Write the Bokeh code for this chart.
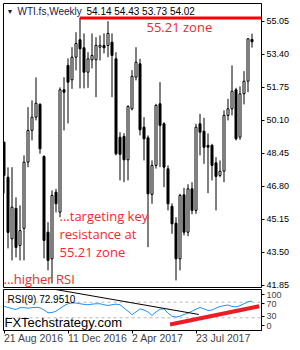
from bokeh.plotting import figure
from bokeh.layouts import column
from bokeh.models import ColumnDataSource, FixedTicker, Range1d, Label, LinearAxis
from bokeh.embed import file_html
from bokeh.resources import INLINE

# ---------------- data ----------------
symbol = "WTI.fs,Weekly"
last_ohlc_text = "54.14 54.43 53.73 54.02"
opens = [49.00, 47.25, 44.17, 45.69, 43.84, 44.69, 48.00, 49.59, 50.25, 50.89,
         48.29, 44.50, 43.17, 46.50, 45.50, 51.62, 52.84, 52.12, 53.25, 54.12,
         53.72, 52.50, 53.12, 53.12, 53.75, 53.84, 53.84, 54.00, 53.17, 49.25,
         49.29, 48.12, 50.67, 52.25, 52.92, 49.75, 49.22, 46.39, 47.84, 50.92,
         49.92, 47.67, 45.79, 44.95, 43.17, 46.37, 44.50, 46.67, 45.59, 49.92,
         49.55, 48.84, 48.84, 47.97, 47.34, 47.55, 50.34, 50.67, 51.62, 49.25,
         51.42, 52.05, 54.14]
highs = [49.03, 47.74, 47.75, 46.24, 45.84, 48.34, 50.75, 51.09, 52.24, 50.95,
         48.34, 45.00, 46.59, 46.67, 51.74, 52.25, 53.19, 53.75, 54.50, 55.24,
         54.44, 53.50, 54.44, 54.25, 54.34, 54.44, 55.05, 54.44, 53.50, 49.50,
         49.45, 50.84, 52.60, 53.75, 53.17, 50.25, 49.34, 48.09, 50.92, 52.00,
         50.00, 47.84, 45.94, 45.25, 46.42, 46.72, 46.90, 47.00, 49.92, 50.42,
         50.22, 49.44, 48.92, 48.25, 48.09, 50.59, 51.17, 52.84, 51.72, 51.79,
         52.55, 54.20, 54.43]
lows = [46.44, 43.69, 43.09, 43.24, 43.09, 43.09, 47.75, 49.09, 50.09, 48.42,
        43.19, 42.59, 41.94, 45.49, 45.25, 49.59, 49.94, 51.67, 52.59, 51.69,
        51.69, 51.72, 52.69, 51.25, 53.09, 53.44, 53.25, 51.25, 48.34, 47.09,
        47.00, 47.09, 50.59, 52.09, 49.34, 48.09, 43.75, 45.92, 47.68, 47.75,
        46.75, 45.59, 44.42, 42.09, 42.59, 44.34, 44.30, 45.40, 45.42, 48.34,
        47.92, 46.45, 47.09, 45.59, 47.25, 47.00, 50.09, 50.34, 49.09, 49.12,
        50.89, 51.50, 53.73]
closes = [47.34, 44.49, 45.75, 43.74, 44.58, 48.00, 49.59, 50.25, 50.95, 48.67,
          44.09, 43.09, 46.34, 45.92, 51.62, 51.50, 52.00, 53.25, 53.94, 53.67,
          52.50, 53.17, 53.34, 53.84, 53.84, 53.72, 54.44, 53.34, 48.42, 48.39,
          48.12, 50.79, 52.29, 53.00, 49.62, 49.17, 46.42, 47.84, 50.84, 49.84,
          47.75, 45.92, 44.92, 43.17, 46.34, 44.50, 46.67, 45.59, 49.75, 49.50,
          48.75, 48.75, 47.84, 47.29, 47.55, 50.34, 50.67, 51.55, 49.17, 51.42,
          52.05, 54.17, 54.02]
rsi9 = [59.7, 56.5, 53.5, 51.5, 56.0, 56.0, 54.6, 56.0, 57.0, 55.6,
        50.0, 43.0, 43.5, 47.0, 54.0, 61.0, 66.0, 68.0, 68.0, 66.0,
        64.5, 63.3, 65.0, 66.0, 66.0, 63.5, 61.5, 63.5, 65.0, 63.5,
        55.0, 47.0, 38.0, 45.0, 53.0, 50.0, 45.0, 36.0, 45.0, 52.0,
        53.0, 42.0, 34.0, 32.0, 34.0, 38.5, 42.0, 47.0, 52.0, 56.5,
        53.0, 48.7, 50.0, 55.0, 59.0, 61.0, 63.0, 59.0, 58.0, 61.0,
        66.0, 71.0, 72.95]
rsi_label = "RSI(9) 72.9510"
price_ticks = [41.85, 43.50, 45.15, 46.80, 48.45, 50.10, 51.75, 53.40, 55.05]
rsi_levels = [30, 70]
rsi_ticks = [0, 30, 70, 100]
date_tick_bars = [0, 16, 32, 48]
date_labels = ["21 Aug 2016", "11 Dec 2016", "2 Apr 2017", "23 Jul 2017"]
zone_level = 55.21
zone_start_bar = 19
rsi_res_x = [12.1, 48.7]
rsi_res_y = [104.0, 38.5]
rsi_sup_x = [41.5, 63.8]
rsi_sup_y = [12.8, 59.7]
notes = ["...targeting key", "resistance at", "55.21 zone"]

# ---------------- geometry helpers (pixel layout) ----------------
PX_BAR = 4.0
X0 = -0.125
X1 = X0 + 258 / PX_BAR
P_TOP, P_BOT = 55.935, 41.735
R_TOP, R_BOT = 102.6, -2.6
SCALE_TOP, SCALE_BOT = 116.1, -16.1   # compressed label scale of the terminal's RSI axis
FRAME_LEFT = 3
RSI_TOP_PX = 289
RSI_FRAME_H = 41


def bx(px):
    return X0 + (px - FRAME_LEFT) / PX_BAR


def py(px):
    return P_TOP - (px - 3) / 20.0


def ry(px):
    return R_TOP - (px - RSI_TOP_PX) / 0.39


SMALL = "Liberation Sans"
RED = "#f2282d"

# ---------------- main price panel ----------------
bars = list(range(len(opens)))
tops = [max(o, c) for o, c in zip(opens, closes)]
bottoms = [min(o, c) for o, c in zip(opens, closes)]
fills = ["white" if c >= o else "black" for o, c in zip(opens, closes)]
src = ColumnDataSource(dict(x=bars, o=opens, h=highs, l=lows, c=closes,
                            top=tops, bottom=bottoms, fill=fills))

p = figure(frame_width=258, frame_height=284, x_range=Range1d(X0, X1),
           y_range=Range1d(P_BOT, P_TOP), output_backend="svg",
           toolbar_location=None, x_axis_location=None, y_axis_location="right",
           min_border_left=3, min_border_right=39, min_border_top=3,
           min_border_bottom=2)
p.grid.visible = False
p.outline_line_color = "black"
p.outline_line_alpha = 1.0
p.background_fill_color = "white"
p.border_fill_color = "white"

ya = p.yaxis[0]
ya.ticker = FixedTicker(ticks=price_ticks)
ya.major_label_overrides = {t: f"{t:.2f}" for t in price_ticks}
ya.major_tick_out = 3
ya.major_tick_in = 0
ya.minor_tick_out = 0
ya.minor_tick_in = 0
ya.major_label_standoff = 2
ya.major_label_text_font = SMALL
ya.major_label_text_font_size = "9px"
ya.major_label_text_color = "black"
ya.axis_line_color = "black"

p.segment(x0="x", y0="l", x1="x", y1="h", source=src, line_color="black", line_width=1)
p.vbar(x="x", width=0.5, top="top", bottom="bottom", fill_color="fill",
       line_color="black", line_width=1, source=src)

# 55.21 zone line
p.segment(x0=[zone_start_bar], y0=[zone_level], x1=[X1 + 1], y1=[zone_level],
          line_color="red", line_width=3)

# header
p.add_layout(Label(x=bx(6), y=py(11), text="▼", text_font=SMALL, text_font_size="7px",
                   text_color="#1a1a40", text_baseline="middle"))
p.add_layout(Label(x=bx(17), y=py(11), text=symbol, text_font=SMALL, text_font_size="10px",
                   text_color="#1a1a50", text_baseline="middle"))
p.add_layout(Label(x=bx(86), y=py(11), text=last_ohlc_text, text_font=SMALL,
                   text_font_size="10px", text_color="black", text_baseline="middle"))

# red annotations
p.add_layout(Label(x=bx(146), y=py(26), text=f"{zone_level:.2f} zone", text_font="Open Sans",
                   text_font_size="13px", text_color=RED, text_baseline="middle"))
for i, t in enumerate(notes):
    p.add_layout(Label(x=bx(59), y=py(215 + 18.3 * i), text=t, text_font="Open Sans",
                       text_font_size="13px", text_color=RED, text_baseline="middle"))
p.add_layout(Label(x=bx(3), y=py(278), text="...higher RSI", text_font="Open Sans",
                   text_font_size="13px", text_color=RED, text_baseline="middle"))

# current price tag
p.add_layout(Label(x=bx(263), y=closes[-1], text=f"{closes[-1]:.2f}", text_font=SMALL,
                   text_font_size="9px", text_color="white", text_baseline="middle",
                   background_fill_color="black", padding=2))

# ---------------- RSI panel ----------------
r = figure(frame_width=258, frame_height=RSI_FRAME_H, x_range=p.x_range,
           y_range=Range1d(R_BOT, R_TOP), output_backend="svg",
           toolbar_location=None, y_axis_location=None,
           min_border_left=3, min_border_right=39, min_border_top=0,
           min_border_bottom=20)
r.grid.visible = False
r.outline_line_color = "black"
r.outline_line_alpha = 1.0
r.extra_y_ranges = {"scale": Range1d(SCALE_BOT, SCALE_TOP)}

r.segment(x0=[X0 - 1] * len(rsi_levels), y0=rsi_levels, x1=[X1 + 1] * len(rsi_levels),
          y1=rsi_levels, line_color="#b9b9b9", line_dash="3 3", line_width=1)

r.line(bars, rsi9, line_color="#1e90ff", line_width=1)
r.line(rsi_res_x, rsi_res_y, line_color="black", line_width=1)
r.line(rsi_sup_x, rsi_sup_y, line_color="#ee1c25", line_width=4)

r.add_layout(Label(x=bx(7), y=ry(299), text=rsi_label, text_font=SMALL,
                   text_font_size="10px", text_color="black", text_baseline="middle"))
r.add_layout(Label(x=bx(4), y=ry(322), text="FXTechstrategy.com", text_font=SMALL,
                   text_font_size="13px", text_color="black", text_baseline="middle"))

ry_ax = LinearAxis(y_range_name="scale", ticker=FixedTicker(ticks=rsi_ticks))
ry_ax.major_tick_out = 3
ry_ax.major_tick_in = 0
ry_ax.minor_tick_out = 0
ry_ax.minor_tick_in = 0
ry_ax.major_label_standoff = 2
ry_ax.major_label_text_font = SMALL
ry_ax.major_label_text_font_size = "9px"
ry_ax.axis_line_color = "black"
r.add_layout(ry_ax, "right")

xa = r.xaxis[0]
xa.ticker = FixedTicker(ticks=date_tick_bars)
xa.major_label_overrides = {b: s for b, s in zip(date_tick_bars, date_labels)}
xa.major_label_orientation = -0.0001   # labels start at their tick, terminal style
xa.major_tick_out = 3
xa.major_tick_in = 0
xa.minor_tick_out = 0
xa.minor_tick_in = 0
xa.major_label_standoff = 4
xa.major_label_text_font = SMALL
xa.major_label_text_font_size = "10.5px"
xa.axis_line_color = "black"

layout = column(p, r, spacing=0)
open("out.html", "w").write(file_html(layout, INLINE))
